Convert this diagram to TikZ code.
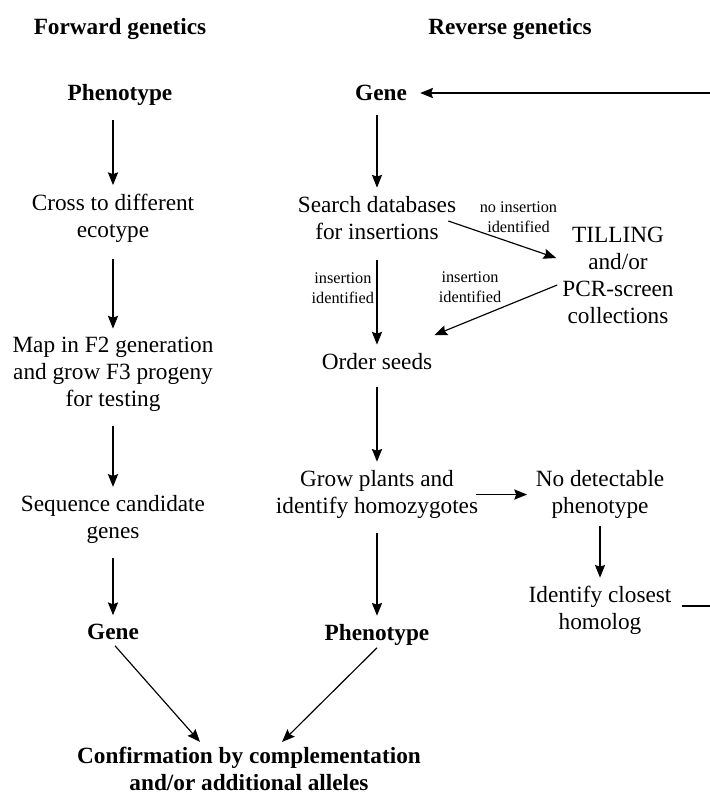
\documentclass[tikz,border=0pt]{standalone}
\usepackage{fontspec}
\setmainfont{Liberation Serif}
\usetikzlibrary{arrows.meta, positioning, calc}

\begin{document}
\begin{tikzpicture}[>={Stealth[length=5.5pt,width=4.4pt,inset=0.8pt]},shorten >=1.5pt,shorten <=4pt,
		x=0.43pt,y=0.43pt,line width=0.5pt,
		main node/.style={align=center,inner sep=2pt,font=\fontsize{10}{11.6}\selectfont},
		bold node/.style={main node,font=\fontsize{10}{11.6}\selectfont\bfseries},
		small node/.style={align=center,inner sep=1pt,font=\fontsize{7}{8.5}\selectfont}]
		
		\useasboundingbox (0,0) rectangle (710,-796);
		\clip (0,0) rectangle (710,-796);
		
		\node[bold node] (fwd) at (120,-29) {Forward genetics};
		\node[bold node] (rev) at (510,-29) {Reverse genetics};
		
		% forward column
		\node[bold node] (phen1) [node distance=28.4pt, below of=fwd] {Phenotype};
		\node[main node] (cross) at (113,-218) {Cross to different\\ecotype};
		\node[main node] (map) [node distance=67.3pt, below of=cross] {Map in F2 generation\\and grow F3 progeny\\for testing};
		\node[main node] (seq) [node distance=62.4pt, below of=map] {Sequence candidate\\genes};
		\node[bold node] (gene1) [node distance=48.2pt, below of=seq] {Gene};
		
		% reverse column
		\node[bold node] (gene2) at (381,-93) {Gene};
		\node[main node] (search) at (377,-218) {Search databases\\for insertions};
		\node[main node] (tilling) at (618,-275) {TILLING\\and/or\\PCR-screen\\collections};
		\node[main node] (order) [node distance=61.7pt, below of=search] {Order seeds};
		\node[main node] (grow) [node distance=57.2pt, below of=order] {Grow plants and\\identify homozygotes};
		\node[main node] (nodet) [node distance=95.9pt, right of=grow] {No detectable\\phenotype};
		\node[main node] (homolog) [node distance=49.9pt, below of=nodet] {Identify closest\\homolog};
		\node[bold node] (phen2) [node distance=60.4pt, below of=grow] {Phenotype};
		
		\node[bold node] (confirm) at (249,-769) {Confirmation by complementation\\and/or additional alleles};
		\coordinate (corner) at (740,-93);
		
		\path[->]
		
		(phen1.south -| cross.north) edge (cross.north)
		(cross) edge[shorten <=5pt] (map)
		(map) edge (seq)
		(seq) edge (gene1)
		(gene2.south -| search.north) edge (search.north)
		(search) edge[shorten <=6.5pt] node[small node, left, pos=0.42] {insertion\\identified} (order)
		(order) edge[shorten <=5pt] (grow)
		(grow) edge (phen2)
		(grow) edge[shorten <=-3pt] (nodet)
		(nodet) edge[shorten <=1pt] (homolog);
		
		\draw[->, shorten <=0pt, shorten >=0pt] ($(search.east)+(-13,-3)$) -- node[small node, above=4pt, pos=0.65] {no insertion\\identified} ($(tilling.west)+(-1,17)$);
		\draw[->, shorten <=0pt, shorten >=0pt] ($(tilling.west)+(0,-10)$) -- node[small node, above=6.5pt, pos=0.71] {insertion\\identified} ($(order.north east)+(-3,13)$);
		\draw[->, shorten <=0pt, shorten >=0pt] ($(gene1.south)+(2,-1)$) -- ($(confirm.north)+(-49,0)$);
		\draw[->, shorten <=0pt, shorten >=0pt] ($(phen2.south)+(0,3)$) -- ($(confirm.north)+(33,0)$);
		\draw[->, shorten <=2.5pt, shorten >=3.5pt] ([yshift=2pt]homolog.east) -| (corner) |- (gene2.east);
		
\end{tikzpicture}
\end{document}
